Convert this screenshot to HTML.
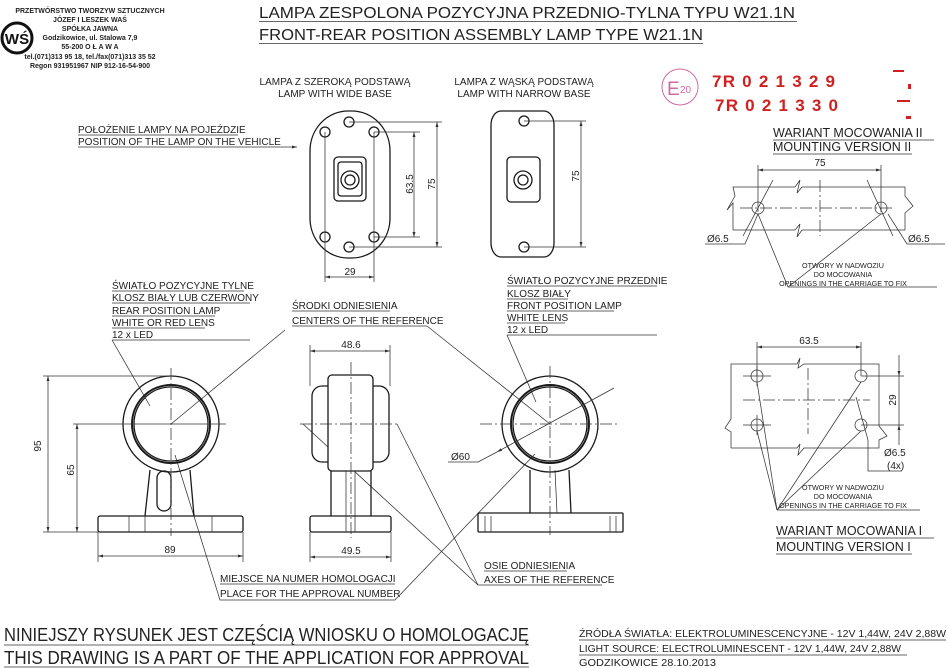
<!DOCTYPE html>
<html><head><meta charset="utf-8"><style>
html,body{margin:0;padding:0;background:#fff;}
svg{display:block;font-family:"Liberation Sans","DejaVu Sans",sans-serif;}
.t{font-size:10px;fill:#222;}
.s{font-size:7.2px;fill:#222;}
.l{stroke:#1a1a1a;stroke-width:1.3;fill:none;}
.th{stroke:#333;stroke-width:0.75;fill:none;}
</style></head><body>
<svg width="948" height="668" viewBox="0 0 948 668" xmlns="http://www.w3.org/2000/svg">
<defs>
<marker id="a" viewBox="0 0 10 6" refX="10" refY="3" markerWidth="8" markerHeight="4" orient="auto-start-reverse"><path d="M0,0L10,3L0,6z" fill="#333"/></marker>
</defs>
<g font-size="7" font-weight="bold" fill="#222" text-anchor="middle">
<text x="90" y="13">PRZETWÓRSTWO TWORZYW SZTUCZNYCH</text>
<text x="90" y="22">JÓZEF I LESZEK WAŚ</text>
<text x="90" y="31">SPÓŁKA JAWNA</text>
<text x="90" y="40">Godzikowice, ul. Stalowa 7,9</text>
<text x="90" y="49">55-200  O Ł A W A</text>
<text x="90" y="59">tel.(071)313 95 18, tel./fax(071)313 35 52</text>
<text x="90" y="68">Regon 931951967 NIP 912-16-54-900</text>
</g>
<circle cx="17" cy="38" r="15" fill="none" stroke="#111" stroke-width="3"/>
<text x="17" y="44" font-size="15" font-weight="bold" text-anchor="middle" fill="#111">WŚ</text>
<text x="259" y="18" font-size="16" fill="#222" textLength="536" lengthAdjust="spacingAndGlyphs">LAMPA ZESPOLONA POZYCYJNA PRZEDNIO-TYLNA  TYPU W21.1N</text>
<line x1="259" y1="21.5" x2="797" y2="21.5" class="th"/>
<text x="259" y="40" font-size="16" fill="#222" textLength="444" lengthAdjust="spacingAndGlyphs">FRONT-REAR POSITION ASSEMBLY LAMP  TYPE W21.1N</text>
<line x1="259" y1="43.5" x2="703" y2="43.5" class="th"/>
<g class="t" text-anchor="middle">
<text x="335" y="85">LAMPA Z SZEROKĄ PODSTAWĄ</text>
<text x="335" y="97">LAMP WITH WIDE BASE</text>
<text x="524" y="85">LAMPA Z WĄSKĄ PODSTAWĄ</text>
<text x="524" y="97">LAMP WITH NARROW BASE</text>
</g>
<text class="t" x="78" y="133">POŁOŻENIE LAMPY NA POJEŹDZIE</text>
<text class="t" x="78" y="145">POSITION OF THE LAMP ON THE VEHICLE</text>
<line x1="78" y1="135" x2="238" y2="135" class="th"/>
<line x1="78" y1="147" x2="297" y2="147" class="th" marker-end="url(#a)"/>
<rect x="310" y="111" width="80" height="147" rx="38" ry="40" class="l"/>
<g class="l">
<circle cx="349" cy="122" r="5"/><circle cx="325" cy="132" r="5"/><circle cx="374" cy="132" r="5"/>
<circle cx="325" cy="237" r="5"/><circle cx="374" cy="237" r="5"/><circle cx="349" cy="247" r="5"/>
<rect x="334" y="157" width="32" height="44" rx="4"/>
<rect x="338" y="162" width="24" height="34" rx="3"/>
<circle cx="350" cy="180" r="9"/><circle cx="350" cy="180" r="5"/>
</g>
<g class="th">
<line x1="325" y1="132" x2="325" y2="282"/><line x1="374" y1="132" x2="374" y2="282"/>
<line x1="374" y1="132" x2="420" y2="132"/><line x1="374" y1="237" x2="420" y2="237"/>
<line x1="349" y1="122" x2="442" y2="122"/><line x1="349" y1="247" x2="442" y2="247"/>
<line x1="414" y1="132" x2="414" y2="237" marker-start="url(#a)" marker-end="url(#a)"/>
<line x1="437" y1="122" x2="437" y2="247" marker-start="url(#a)" marker-end="url(#a)"/>
<line x1="325" y1="277" x2="374" y2="277" marker-start="url(#a)" marker-end="url(#a)"/>
</g>
<text class="t" transform="translate(413,184) rotate(-90)" text-anchor="middle">63.5</text>
<text class="t" transform="translate(435,184) rotate(-90)" text-anchor="middle">75</text>
<text class="t" x="350" y="275" text-anchor="middle">29</text>
<rect x="491" y="111" width="63" height="146" rx="10" ry="14" class="l"/>
<g class="l">
<circle cx="524" cy="121" r="5"/><circle cx="524" cy="247" r="5"/>
<rect x="507" y="157" width="33" height="45" rx="4"/>
<circle cx="523" cy="180" r="9"/><circle cx="523" cy="180" r="5"/>
</g>
<g class="th">
<line x1="524" y1="121" x2="586" y2="121"/><line x1="524" y1="247" x2="586" y2="247"/>
<line x1="581" y1="121" x2="581" y2="247" marker-start="url(#a)" marker-end="url(#a)"/>
</g>
<text class="t" transform="translate(579,176) rotate(-90)" text-anchor="middle">75</text>
<circle cx="680" cy="87" r="18" fill="none" stroke="#d06aa0" stroke-width="1"/>
<text x="667" y="95" font-size="19" fill="#d06aa0">E</text>
<text x="680" y="93" font-size="10" fill="#d06aa0">20</text>
<text x="712" y="87" font-size="17" font-weight="bold" fill="#d02020" textLength="123" lengthAdjust="spacing">7R  0 2 1 3 2 9</text>
<text x="715" y="111" font-size="17" font-weight="bold" fill="#d02020" textLength="123" lengthAdjust="spacing">7R  0 2 1 3 3 0</text>
<g fill="#d02020"><rect x="893" y="70" width="11" height="2"/><rect x="908" y="84" width="3" height="5"/><rect x="897" y="100" width="13" height="2"/><rect x="906" y="116" width="5" height="3"/></g>
<text x="773" y="137" font-size="12.5" fill="#222">WARIANT MOCOWANIA II</text>
<line x1="773" y1="140" x2="934" y2="140" class="th"/>
<text x="773" y="151" font-size="12.5" fill="#222">MOUNTING VERSION II</text>
<line x1="773" y1="154" x2="912" y2="154" class="th"/>
<g class="th">
<line x1="758" y1="165" x2="758" y2="212"/><line x1="881" y1="165" x2="881" y2="212"/>
<line x1="758" y1="170" x2="881" y2="170" marker-start="url(#a)" marker-end="url(#a)"/>
<polyline points="733,230 733,203 727,210 735,196 733,187 795,187 800,180 797,193 802,187 905,187 905,196 913,206 905,213 905,230 802,230 797,237 800,224 795,230 733,230"/>
<circle cx="758" cy="208" r="6"/><circle cx="881" cy="208" r="6"/>
<line x1="740" y1="208" x2="895" y2="208" stroke-dasharray="12 3 2 3"/>
<line x1="820" y1="180" x2="820" y2="236" stroke-dasharray="12 3 2 3"/>
<line x1="773" y1="180" x2="743" y2="236"/><line x1="867" y1="180" x2="893" y2="236"/>
<polyline points="705,244 745,244 758,214"/><polyline points="945,244 907,244 888,214"/>
<line x1="758" y1="214" x2="788" y2="287"/><line x1="881" y1="214" x2="788" y2="287"/>
<line x1="788" y1="287" x2="937" y2="287"/>
</g>
<text x="820" y="166" font-size="10" text-anchor="middle" fill="#222">75</text>
<text x="707" y="242" font-size="10" fill="#222">Ø6.5</text>
<text x="908" y="242" font-size="10" fill="#222">Ø6.5</text>
<g class="s" text-anchor="middle"><text x="843" y="268">OTWORY W NADWOZIU</text><text x="843" y="277">DO MOCOWANIA</text><text x="843" y="286">OPENINGS IN THE CARRIAGE TO FIX</text></g>
<g class="th">
<line x1="757" y1="342" x2="757" y2="376"/><line x1="861" y1="342" x2="861" y2="376"/>
<line x1="757" y1="347" x2="861" y2="347" marker-start="url(#a)" marker-end="url(#a)"/>
<polyline points="731,448 731,432 725,428 731,419 731,364 797,364 800,358 798,368 804,364 879,364 879,426 887,436 879,440 879,448 804,448 798,455 800,444 797,448 731,448"/>
<circle cx="757" cy="376" r="6"/><circle cx="861" cy="376" r="6"/><circle cx="757" cy="425" r="6"/><circle cx="861" cy="425" r="6"/>
<line x1="743" y1="376" x2="771" y2="376"/><line x1="757" y1="366" x2="757" y2="386"/>
<line x1="743" y1="425" x2="771" y2="425"/><line x1="757" y1="415" x2="757" y2="435"/>
<line x1="743" y1="400" x2="870" y2="400" stroke-dasharray="12 3 2 3"/>
<line x1="808" y1="368" x2="808" y2="434" stroke-dasharray="12 3 2 3"/>
<line x1="861" y1="376" x2="904" y2="376"/><line x1="861" y1="425" x2="904" y2="425"/>
<line x1="899" y1="355" x2="899" y2="376" marker-end="url(#a)"/><line x1="899" y1="445" x2="899" y2="425" marker-end="url(#a)"/>
<line x1="899" y1="376" x2="899" y2="425"/>
<line x1="856" y1="397" x2="868" y2="440"/>
<polyline points="868,440 868,471 902,471"/>
<line x1="757" y1="382" x2="777" y2="510"/><line x1="757" y1="431" x2="777" y2="510"/>
<line x1="861" y1="382" x2="777" y2="510"/><line x1="861" y1="431" x2="777" y2="510"/>
<line x1="777" y1="510" x2="920" y2="510"/>
</g>
<text x="809" y="344" font-size="10" text-anchor="middle" fill="#222">63.5</text>
<text class="t" transform="translate(896,400) rotate(-90)" text-anchor="middle">29</text>
<text x="884" y="456" font-size="10" fill="#222">Ø6.5</text>
<text x="887" y="469" font-size="10" fill="#222">(4x)</text>
<g class="s" text-anchor="middle"><text x="843" y="490">OTWORY W NADWOZIU</text><text x="843" y="499">DO MOCOWANIA</text><text x="843" y="508">OPENINGS IN THE CARRIAGE TO FIX</text></g>
<text x="776" y="535" font-size="12.5" fill="#222">WARIANT MOCOWANIA I</text>
<line x1="776" y1="538" x2="934" y2="538" class="th"/>
<text x="776" y="551" font-size="12.5" fill="#222">MOUNTING VERSION I</text>
<line x1="776" y1="554" x2="912" y2="554" class="th"/>
<g class="t">
<text x="112" y="289">ŚWIATŁO POZYCYJNE TYLNE</text>
<text x="112" y="301">KLOSZ BIAŁY LUB CZERWONY</text>
<text x="112" y="314">REAR POSITION LAMP</text>
<text x="112" y="326">WHITE OR RED LENS</text>
<text x="112" y="338">12 x LED</text>
<text x="292" y="309">ŚRODKI ODNIESIENIA</text>
<text x="292" y="324">CENTERS OF THE REFERENCE</text>
<text x="507" y="284">ŚWIATŁO POZYCYJNE PRZEDNIE</text>
<text x="507" y="297">KLOSZ BIAŁY</text>
<text x="507" y="309">FRONT POSITION LAMP</text>
<text x="507" y="321">WHITE LENS</text>
<text x="507" y="333">12 x LED</text>
<text x="220" y="582">MIEJSCE NA NUMER HOMOLOGACJI</text>
<text x="220" y="597">PLACE FOR THE APPROVAL NUMBER</text>
<text x="484" y="569">OSIE ODNIESIENIA</text>
<text x="484" y="583">AXES OF THE REFERENCE</text>
</g>
<g class="th">
<line x1="112" y1="291" x2="244" y2="291"/><line x1="112" y1="303" x2="250" y2="303"/><line x1="112" y1="316" x2="215" y2="316"/><line x1="112" y1="328" x2="205" y2="328"/>
<line x1="112" y1="340" x2="250" y2="340"/><line x1="112" y1="340" x2="150" y2="406"/>
<line x1="292" y1="311" x2="390" y2="311"/><line x1="292" y1="326" x2="427" y2="326"/>
<line x1="285" y1="330" x2="171" y2="424"/><line x1="427" y1="326" x2="550" y2="424"/>
<line x1="507" y1="286" x2="657" y2="286"/><line x1="507" y1="299" x2="568" y2="299"/><line x1="507" y1="311" x2="614" y2="311"/><line x1="507" y1="323" x2="565" y2="323"/><line x1="507" y1="335" x2="657" y2="335"/>
<line x1="507" y1="335" x2="536" y2="402"/>
<polyline points="175,455 220,600 395,600 535,454"/>
<line x1="220" y1="584" x2="395" y2="584"/>
<line x1="484" y1="571" x2="567" y2="571"/>
<polyline points="303,424 478,585 602,585"/>
<line x1="397" y1="424" x2="478" y2="585"/>
</g>
<g class="l">
<circle cx="171" cy="424" r="48"/><circle cx="171" cy="424" r="39" stroke-width="2"/><circle cx="171" cy="424" r="37"/>
<path d="M150,470 L145,516 M190,470 L194,516"/>
<rect x="157" y="471" width="14" height="40" rx="7"/>
<rect x="98" y="516" width="145" height="16" rx="2"/>
</g>
<g class="th">
<line x1="129" y1="516" x2="129" y2="532"/><line x1="145" y1="516" x2="145" y2="532"/><line x1="212" y1="516" x2="212" y2="532"/>
<line x1="43" y1="376" x2="171" y2="376"/><line x1="43" y1="532" x2="98" y2="532"/><line x1="73" y1="424" x2="226" y2="424"/>
<line x1="171" y1="368" x2="171" y2="536" stroke-dasharray="12 3 2 3"/>
<line x1="48" y1="376" x2="48" y2="532" marker-start="url(#a)" marker-end="url(#a)"/>
<line x1="77" y1="424" x2="77" y2="532" marker-start="url(#a)" marker-end="url(#a)"/>
<line x1="98" y1="532" x2="98" y2="562"/><line x1="243" y1="532" x2="243" y2="562"/>
<line x1="98" y1="556" x2="243" y2="556" marker-start="url(#a)" marker-end="url(#a)"/>
</g>
<text class="t" transform="translate(41,446) rotate(-90)" text-anchor="middle">95</text>
<text class="t" transform="translate(74,470) rotate(-90)" text-anchor="middle">65</text>
<text class="t" x="170" y="553" text-anchor="middle">89</text>
<g class="l">
<rect x="312" y="386" width="77" height="76" rx="10"/>
<rect x="328" y="375" width="45" height="96" rx="4" fill="#fff"/>
<path d="M331,471 L331,516 M371,471 L371,516"/>
<rect x="310" y="516" width="81" height="16" rx="2"/>
</g>
<g class="th">
<line x1="346" y1="471" x2="346" y2="532"/><line x1="355" y1="471" x2="355" y2="532"/>
<line x1="351" y1="362" x2="351" y2="538" stroke-dasharray="12 3 2 3"/>
<line x1="300" y1="424" x2="400" y2="424" stroke-dasharray="12 3 2 3"/>
<line x1="310" y1="345" x2="310" y2="386"/><line x1="390" y1="345" x2="390" y2="386"/>
<line x1="310" y1="351" x2="390" y2="351" marker-start="url(#a)" marker-end="url(#a)"/>
<line x1="310" y1="532" x2="310" y2="562"/><line x1="391" y1="532" x2="391" y2="562"/>
<line x1="310" y1="557" x2="391" y2="557" marker-start="url(#a)" marker-end="url(#a)"/>
</g>
<text class="t" x="351" y="348" text-anchor="middle">48.6</text>
<text class="t" x="351" y="554" text-anchor="middle">49.5</text>
<g class="l">
<circle cx="550" cy="424" r="48"/><circle cx="550" cy="424" r="39" stroke-width="2"/><circle cx="550" cy="424" r="37"/>
<path d="M530,470 L530,513 M569,470 L571,513"/>
<rect x="478" y="513" width="145" height="19" rx="1"/>
</g>
<g class="th">
<line x1="485" y1="516" x2="485" y2="532"/><line x1="491" y1="516" x2="491" y2="532"/><line x1="610" y1="516" x2="610" y2="532"/><line x1="616" y1="516" x2="616" y2="532"/>
<line x1="555" y1="470" x2="557" y2="513"/>
<line x1="550" y1="366" x2="550" y2="535" stroke-dasharray="12 3 2 3"/>
<line x1="480" y1="424" x2="620" y2="424" stroke-dasharray="12 3 2 3"/>
<line x1="497" y1="452" x2="614" y2="388" marker-start="url(#a)"/>
<polyline points="448,462 478,462 497,452"/>
</g>
<text class="t" x="451" y="460">Ø60</text>
<text x="4" y="641" font-size="18.5" fill="#222" textLength="525" lengthAdjust="spacingAndGlyphs">NINIEJSZY RYSUNEK JEST CZĘŚCIĄ WNIOSKU O  HOMOLOGACJĘ</text>
<line x1="4" y1="645" x2="529" y2="645" class="th"/>
<text x="4" y="664" font-size="18.5" fill="#222" textLength="525" lengthAdjust="spacingAndGlyphs">THIS DRAWING IS A PART OF THE APPLICATION FOR  APPROVAL</text>
<line x1="4" y1="667" x2="529" y2="667" class="th"/>
<text x="579" y="637" font-size="10" fill="#222" textLength="367" lengthAdjust="spacingAndGlyphs">ŹRÓDŁA ŚWIATŁA: ELEKTROLUMINESCENCYJNE - 12V 1,44W, 24V 2,88W</text>
<line x1="579" y1="640" x2="946" y2="640" class="th"/>
<text x="579" y="652" font-size="10" fill="#222" textLength="322" lengthAdjust="spacingAndGlyphs">LIGHT SOURCE: ELECTROLUMINESCENT - 12V 1,44W, 24V 2,88W</text>
<line x1="579" y1="655" x2="907" y2="655" class="th"/>
<text x="579" y="666" font-size="10" fill="#222" textLength="137" lengthAdjust="spacingAndGlyphs">GODZIKOWICE 28.10.2013</text>
</svg>
</body></html>
